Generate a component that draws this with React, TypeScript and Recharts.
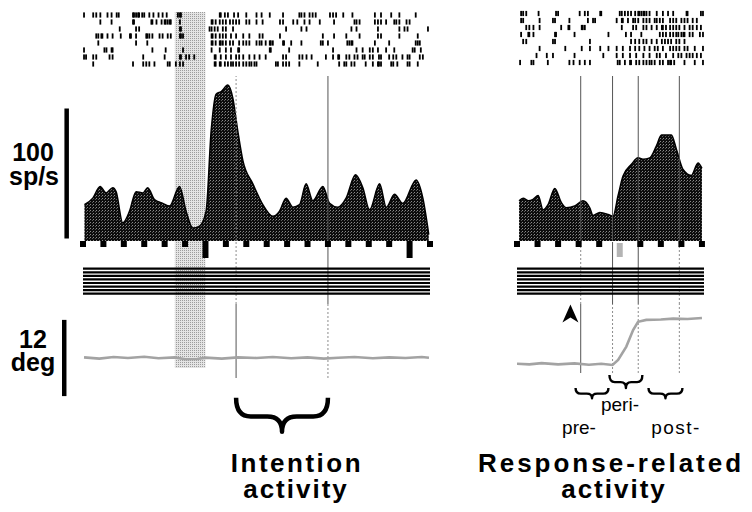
import React from "react";
import {
  ComposedChart,
  ScatterChart,
  Scatter,
  Area,
  Line,
  XAxis,
  YAxis,
  ReferenceLine,
  ReferenceArea,
  ReferenceDot,
} from "recharts";

const W = 752;
const FONT = "'Liberation Sans', Arial, Helvetica, sans-serif";

// ================= DATA : left panel (aligned on target flash, ms) =================
const leftTicks = [-600, -500, -400, -300, -200, -100, 0, 100, 200, 300, 400, 500, 600, 700, 800, 900, 1000, 1100];
const leftLongTicks = [0, 1000];
const leftFlash = { from: -150, to: 0 };
const leftEvents = [150, 600];
const intentionWindow = { from: 150, to: 600 };

// firing rate, sp/s
const leftRate: [number, number][] = [
  [-593, 28], [-552, 33], [-516, 42], [-487, 37], [-454, 41], [-438, 38], [-405, 14], [-372, 23],
  [-340, 38], [-307, 37], [-283, 41], [-250, 32], [-209, 29], [-176, 27], [-127, 42], [-95, 23],
  [-62, 10], [-29, 11.5], [3, 23], [28, 85], [52, 113], [77, 115], [109, 120], [134, 110],
  [158, 85], [183, 62], [232, 44], [281, 28], [330, 19], [363, 23], [395, 33], [428, 26],
  [461, 28], [493, 44], [526, 31], [575, 42], [608, 29], [648, 26], [689, 33], [735, 51],
  [771, 41], [804, 24], [853, 44], [886, 26], [926, 36], [967, 29], [1032, 47], [1065, 33], [1094, 5],
];

// spike times (ms), one list per trial
const leftSpikes: number[][] = [
  [-595, -550, -535, -515, -480, -460, -435, -425, -355, -350, -340, -330, -325, -310, -300, -275, -255, -230, -210, -190, -135, -125, -120, 70, 75, 95, 110, 140, 160, 200, 250, 275, 315, 380, 460, 470, 485, 510, 525, 540, 610, 625, 640, 675, 720, 830, 860, 910, 950, 1030],
  [-515, -460, -355, -350, -265, -260, -240, -215, -200, -195, -185, -175, -170, -125, 30, 35, 50, 70, 85, 100, 120, 135, 150, 165, 200, 215, 250, 280, 365, 380, 430, 450, 485, 510, 560, 630, 730, 740, 755, 830, 845, 860, 885, 925, 935, 950, 985, 1000],
  [-420, -340, -325, -125, -120, 20, 30, 45, 60, 85, 100, 135, 395, 470, 495, 715, 740, 845, 950, 975, 990, 1090],
  [-535, -525, -510, -505, -480, -455, -415, -370, -365, -340, -290, -285, -275, -260, -225, -210, -185, -170, -125, -120, -110, 30, 35, 50, 70, 85, 100, 125, 150, 185, 215, 265, 280, 365, 575, 630, 690, 755, 845, 860, 950, 1040],
  [-525, -340, -285, 30, 35, 50, 70, 75, 85, 100, 120, 135, 165, 185, 200, 215, 250, 265, 275, 295, 315, 320, 330, 380, 385, 420, 470, 565, 575, 600, 695, 705, 715, 720, 830, 900, 1030, 1040, 1050],
  [-595, -495, -485, -460, -455, -260, -195, -110, 30, 70, 100, 125, 160, 165, 315, 320, 410, 625, 740, 770, 805, 820, 845, 885, 925, 1015, 1025, 1055],
  [-595, -585, -550, -535, -470, -455, -305, -200, -125, -120, -95, -80, -55, 45, 50, 75, 100, 125, 150, 165, 185, 215, 240, 265, 295, 380, 395, 460, 475, 495, 520, 590, 625, 650, 655, 690, 705, 730, 745, 770, 780, 805, 820, 850, 860, 900, 920, 935, 965, 990, 1000, 1050, 1065],
  [-550, -355, -305, -290, -275, -250, -185, -175, -145, -125, -110, 45, 50, 70, 75, 95, 110, 125, 135, 150, 165, 185, 200, 215, 225, 240, 250, 345, 355, 380, 395, 410, 460, 550, 655, 680, 690, 715, 730, 785, 820, 845, 850, 860, 910, 920, 940, 990, 1000, 1040],
];

// eye position, deg
const leftEye: [number, number][] = [
  [-595, 0.1], [-520, -0.1], [-450, 0.15], [-380, 0], [-300, 0.2], [-230, -0.05], [-150, 0.1], [-100, -0.2],
  [-40, -0.15], [0, 0.05], [80, -0.1], [160, 0.1], [250, 0], [330, 0.15], [420, -0.05], [500, 0.1],
  [580, -0.1], [650, 0.05], [730, 0.15], [820, -0.05], [900, 0.1], [980, 0], [1060, 0.15], [1095, 0.05],
];

// ================= DATA : right panel (ms) =================
const rightTicks = [-500, -400, -300, -200, -100, 0, 100, 200, 300, 400];
const rightShadedTicks = [0];
const rightEvents = [-190, -35, 90, 290];
const arrowTime = -240;
const rightWindows = [
  { name: "pre-", from: -215, to: -55 },
  { name: "peri-", from: -50, to: 110 },
  { name: "post-", from: 140, to: 305 },
];

const rightRate: [number, number][] = [
  [-490, 31], [-470, 33], [-446, 31], [-422, 32], [-397, 35], [-373, 24], [-349, 28], [-316, 40.5],
  [-284, 29.5], [-260, 25.6], [-219, 27], [-179, 31], [-146, 25.6], [-130, 19.7], [-97, 22], [-57, 20.5],
  [-33, 19], [-8, 35], [16, 50], [57, 59], [89, 64], [113, 63], [146, 64], [178, 73],
  [203, 81.5], [251, 81.5], [276, 70.5], [308, 55], [348, 50.5], [381, 60], [400, 56],
];

const rightSpikes: number[][] = [
  [-480, -470, -455, -395, -310, -300, -195, -170, -155, -95, -90, 0, 10, 25, 40, 55, 75, 90, 95, 105, 115, 120, 130, 145, 180, 210, 235, 260, 325, 330, 395, 405],
  [-480, -470, -390, -325, -315, -245, -155, -130, -120, -15, 10, 15, 40, 65, 75, 90, 115, 130, 145, 170, 180, 195, 210, 245, 260, 275, 300, 315, 330, 355, 375],
  [-455, -440, -420, -390, -285, -250, -245, -185, -180, -170, 10, 65, 80, 115, 130, 155, 180, 205, 210, 225, 245, 260, 275, 290, 315, 340, 355, 375, 395],
  [-480, -445, -440, -420, -315, -310, -220, -55, 30, 55, 105, 195, 210, 225, 245, 260, 275, 285, 300, 310, 315, 340, 355, 390, 405],
  [-470, -455, -325, -315, -145, 55, 75, 95, 115, 130, 155, 180, 205, 220, 235, 250, 275, 290, 315],
  [-390, -265, -185, -145, -95, -55, -15, 15, 50, 75, 95, 120, 145, 170, 185, 210, 245, 260, 275, 290, 315, 330, 365, 405],
  [-405, -355, -325, -220, -80, -15, 15, 50, 80, 115, 145, 180, 195, 225, 260, 285, 300, 325, 340, 355, 375, 395],
  [-485, -430, -420, -350, -245, -225, -195, -170, -145, -10, 0, 25, 50, 55, 80, 95, 115, 130, 145, 155, 170, 195, 210, 235, 245, 250, 265, 315, 365, 405],
];

const rightEye: [number, number][] = [
  [-500, 0.2], [-440, 0.1], [-380, 0.3], [-300, 0.1], [-220, 0.25], [-150, 0.05], [-90, 0.2], [-35, 0],
  [-8, 0.8], [32, 2.9], [65, 5.5], [89, 6.8], [129, 7.1], [200, 7.15], [260, 7.3], [330, 7.25], [400, 7.4],
];

// horizontal trial stripes
const stripeRows = [1, 2, 3, 4, 5, 6, 7, 8];

// scale bars
const rateScale = { from: 2, to: 102 }; // 100 sp/s
const eyeScale = { from: -6, to: 6 }; // 12 deg

// ================= helpers =================
type LineStyle = "solid" | "dash";

const Spike = (p: any) => (
  <rect x={p.cx - 0.9} y={p.cy - 2.6} width={1.8} height={5.2} fill="#000" />
);

const makeTick = (longTicks: number[], shaded: number[]) => (p: any) => {
  const v = p.payload.value;
  if (shaded.includes(v)) {
    return <rect x={p.x - 3} y={p.y + 2} width={6} height={14} fill="#b4b4b4" />;
  }
  const h = longTicks.includes(v) ? 17 : 6;
  return <rect x={p.x - 3} y={p.y} width={6} height={h} fill="#000" />;
};

const eventLines = (events: number[], styles: LineStyle[], key: string) =>
  events.map((t, i) => (
    <ReferenceLine
      key={key + i}
      x={t}
      stroke={styles[i] === "dash" ? "#8c8c8c" : "#555"}
      strokeDasharray={styles[i] === "dash" ? "2 2" : undefined}
      strokeWidth={1}
      ifOverflow="visible"
    />
  ));

// invisible carrier series so that reference-only charts get their axes
const carrier = (
  <Line dataKey="v" stroke="none" dot={false} activeDot={false} isAnimationActive={false} legendType="none" />
);

const Brace = (p: any) => {
  const { x, y, width: w, height: h } = p;
  const cx = x + w / 2;
  const mid = y + h * 0.55;
  const r = Math.min(h * 0.55, w * 0.16);
  const d = `M${x},${y} Q${x},${mid} ${x + r},${mid} L${cx - r},${mid} Q${cx},${mid} ${cx},${y + h} Q${cx},${mid} ${cx + r},${mid} L${x + w - r},${mid} Q${x + w},${mid} ${x + w},${y}`;
  return <path d={d} fill="none" stroke="#000" strokeWidth={p.bw} strokeLinejoin="round" />;
};

const Arrowhead = (p: any) => {
  const { cx, cy } = p;
  const d = `M${cx},${cy - 9} L${cx + 8},${cy + 9} L${cx},${cy + 4} L${cx - 8},${cy + 9} Z`;
  return <path d={d} fill="#000" />;
};

interface PanelProps {
  id: string;
  domain: [number, number];
  plotLeft: number;
  plotRight: number;
  rate: [number, number][];
  spikes: number[][];
  eye: [number, number][];
  ticks: number[];
  longTicks: number[];
  shadedTicks: number[];
  events: number[];
  histStyles: LineStyle[];
  stripeStyles: LineStyle[];
  eyeStyles: LineStyle[];
  rasterTop: number;
  eyeDomain: [number, number];
  eyePlotH: number;
  left: boolean;
}

const abs = (top: number, h: number): React.CSSProperties => ({
  position: "absolute",
  left: 0,
  top,
  width: W,
  height: h,
});

function Panel(props: PanelProps) {
  const { id, domain, plotLeft, plotRight } = props;
  const m = { left: plotLeft, right: W - plotRight };
  const rateData = props.rate.map(([t, v]) => ({ t, v }));
  const eyeData = props.eye.map(([t, d]) => ({ t, d }));
  const spikeData = props.spikes.flatMap((row, i) => row.map((t) => ({ t, row: i + 1 })));
  const stripeData = [domain[0], domain[1]].map((t) => {
    const o: any = { t };
    stripeRows.forEach((r) => (o["r" + r] = r));
    return o;
  });

  return (
    <>
      {/* background: flash shading */}
      {props.left && (
        <div style={abs(0, 380)}>
          <ComposedChart width={W} height={380} data={rateData} margin={{ ...m, top: 12, bottom: 12 }}>
            <defs>
              <pattern id={id + "stip"} width="2" height="2" patternUnits="userSpaceOnUse">
                <rect width="2" height="2" fill="#e4e4e4" />
                <rect width="1" height="1" fill="#9c9c9c" />
              </pattern>
            </defs>
            <XAxis dataKey="t" type="number" domain={domain} hide allowDataOverflow />
            <YAxis type="number" domain={[0, 1]} hide allowDataOverflow />
            {carrier}
            <ReferenceArea x1={leftFlash.from} x2={leftFlash.to} fill={`url(#${id}stip)`} fillOpacity={1} stroke="none" />
          </ComposedChart>
        </div>
      )}

      {/* trial stripes */}
      <div style={abs(240, 70)}>
        <ComposedChart width={W} height={70} data={stripeData} margin={{ ...m, top: 2, bottom: 6 }}>
          <XAxis dataKey="t" type="number" domain={domain} hide allowDataOverflow />
          <YAxis type="number" domain={[-6.5, 10.9]} reversed hide allowDataOverflow />
          {eventLines(props.events, props.stripeStyles, "s")}
          {stripeRows.map((r) => (
            <Line
              key={"row" + r}
              dataKey={"r" + r}
              type="linear"
              stroke="#000"
              strokeWidth={2.2}
              dot={false}
              activeDot={false}
              isAnimationActive={false}
            />
          ))}
        </ComposedChart>
      </div>

      {/* eye position */}
      <div style={abs(296, 110)}>
        <ComposedChart width={W} height={110} data={eyeData} margin={{ ...m, top: 8, bottom: 110 - 8 - props.eyePlotH }}>
          <XAxis dataKey="t" type="number" domain={domain} hide allowDataOverflow />
          <YAxis type="number" domain={props.eyeDomain} hide allowDataOverflow />
          {eventLines(props.events, props.eyeStyles, "e")}
          <Line dataKey="d" type="linear" stroke="#a3a3a3" strokeWidth={2.6} dot={false} isAnimationActive={false} />
          {props.left && (
            <ReferenceLine
              segment={[{ x: -692, y: eyeScale.from }, { x: -692, y: eyeScale.to }]}
              stroke="#000"
              strokeWidth={4.5}
              ifOverflow="visible"
            />
          )}
          {!props.left && (
            <ReferenceDot x={arrowTime} y={8.1} r={8} shape={Arrowhead} ifOverflow="visible" />
          )}
        </ComposedChart>
      </div>

      {/* firing rate histogram */}
      <div style={abs(60, 210)}>
        <ComposedChart width={W} height={210} data={rateData} margin={{ ...m, top: 16, bottom: 4 }}>
          <defs>
            <pattern id={id + "half"} width="3" height="3" patternUnits="userSpaceOnUse">
              <rect width="3" height="3" fill="#0c0c0c" />
              <rect x="0" y="0" width="1" height="1" fill="#8a8a8a" />
              <rect x="2" y="1" width="1" height="1" fill="#5a5a5a" />
            </pattern>
          </defs>
          <XAxis
            dataKey="t"
            type="number"
            domain={domain}
            ticks={props.ticks}
            interval={0}
            tick={makeTick(props.longTicks, props.shadedTicks)}
            tickSize={0}
            tickMargin={0}
            tickLine={false}
            axisLine={false}
            height={25}
            allowDataOverflow
          />
          <YAxis type="number" domain={[0, 127]} hide allowDataOverflow />
          {eventLines(props.events, props.histStyles, "h")}
          <Area
            dataKey="v"
            type="monotone"
            stroke="#000"
            strokeWidth={1.5}
            fill={`url(#${id}half)`}
            fillOpacity={1}
            baseValue={0}
            isAnimationActive={false}
          />
          {props.left && (
            <ReferenceLine
              segment={[{ x: -680, y: rateScale.from }, { x: -680, y: rateScale.to }]}
              stroke="#000"
              strokeWidth={4.5}
              ifOverflow="visible"
            />
          )}
        </ComposedChart>
      </div>

      {/* spike rasters */}
      <div style={abs(0, 80)}>
        <ScatterChart width={W} height={80} margin={{ ...m, top: props.rasterTop, bottom: 80 - props.rasterTop - 56 }}>
          <XAxis dataKey="t" type="number" domain={domain} hide allowDataOverflow />
          <YAxis dataKey="row" type="number" domain={[0.5, 8.5]} reversed hide />
          <Scatter data={spikeData} shape={Spike} isAnimationActive={false} />
        </ScatterChart>
      </div>

      {/* braces */}
      <div style={abs(370, 80)}>
        <ComposedChart width={W} height={80} data={rateData} margin={{ ...m, top: 2, bottom: 10 }}>
          <XAxis dataKey="t" type="number" domain={domain} hide allowDataOverflow />
          <YAxis type="number" domain={[0, 1]} reversed hide allowDataOverflow />
          {carrier}
          {props.left ? (
            <ReferenceArea
              x1={intentionWindow.from}
              x2={intentionWindow.to}
              y1={0.38}
              y2={0.88}
              shape={(p: any) => <Brace {...p} bw={4.5} />}
              ifOverflow="visible"
            />
          ) : (
            rightWindows.map((w, i) => (
              <ReferenceArea
                key={w.name}
                x1={w.from}
                x2={w.to}
                y1={i === 1 ? 0.045 : 0.235}
                y2={i === 1 ? 0.235 : 0.385}
                shape={(p: any) => <Brace {...p} bw={2.4} />}
                ifOverflow="visible"
              />
            ))
          )}
        </ComposedChart>
      </div>
    </>
  );
}

export default function App() {
  return (
    <div style={{ position: "absolute", left: 0, top: 0, width: W, height: 512, background: "#fff", overflow: "hidden" }}>
      <Panel
        id="L"
        left
        domain={[-600, 1100]}
        plotLeft={83}
        plotRight={430}
        rate={leftRate}
        spikes={leftSpikes}
        eye={leftEye}
        ticks={leftTicks}
        longTicks={leftLongTicks}
        shadedTicks={[]}
        events={leftEvents}
        histStyles={["dash", "solid"]}
        stripeStyles={["dash", "solid"]}
        eyeStyles={["solid", "dash"]}
        rasterTop={11.5}
        eyeDomain={[-3.15, 8.5]}
        eyePlotH={74}
      />
      <Panel
        id="R"
        left={false}
        domain={[-500, 410]}
        plotLeft={517}
        plotRight={704}
        rate={rightRate}
        spikes={rightSpikes}
        eye={rightEye}
        ticks={rightTicks}
        longTicks={[]}
        shadedTicks={rightShadedTicks}
        events={rightEvents}
        histStyles={["solid", "solid", "solid", "solid"]}
        stripeStyles={["dash", "solid", "solid", "dash"]}
        eyeStyles={["solid", "dash", "dash", "dash"]}
        rasterTop={10}
        eyeDomain={[-1.26, 9.6]}
        eyePlotH={69}
      />
      <svg width={W} height={512} style={{ position: "absolute", left: 0, top: 0, pointerEvents: "none" }}>
        <g fontFamily={FONT} fill="#000">
          <text fontSize={25} fontWeight="bold" textAnchor="middle">
            <tspan x={33} y={161}>100</tspan>
            <tspan x={34} y={185}>sp/s</tspan>
          </text>
          <text fontSize={25} fontWeight="bold" textAnchor="middle">
            <tspan x={33} y={348}>12</tspan>
            <tspan x={33} y={371}>deg</tspan>
          </text>
          <text fontSize={26} fontWeight="bold" textAnchor="middle">
            <tspan x={297} y={472} letterSpacing={2.5}>Intention</tspan>
            <tspan x={296} y={498} letterSpacing={2}>activity</tspan>
          </text>
          <text fontSize={26} fontWeight="bold" textAnchor="middle">
            <tspan x={611} y={472} letterSpacing={3}>Response-related</tspan>
            <tspan x={614} y={498} letterSpacing={2}>activity</tspan>
          </text>
          <text x={620} y={411} fontSize={19} textAnchor="middle">peri-</text>
          <text x={579} y={434} fontSize={19} textAnchor="middle">pre-</text>
          <text x={676} y={434} fontSize={19} textAnchor="middle" letterSpacing={1.5}>post-</text>
        </g>
      </svg>
    </div>
  );
}
